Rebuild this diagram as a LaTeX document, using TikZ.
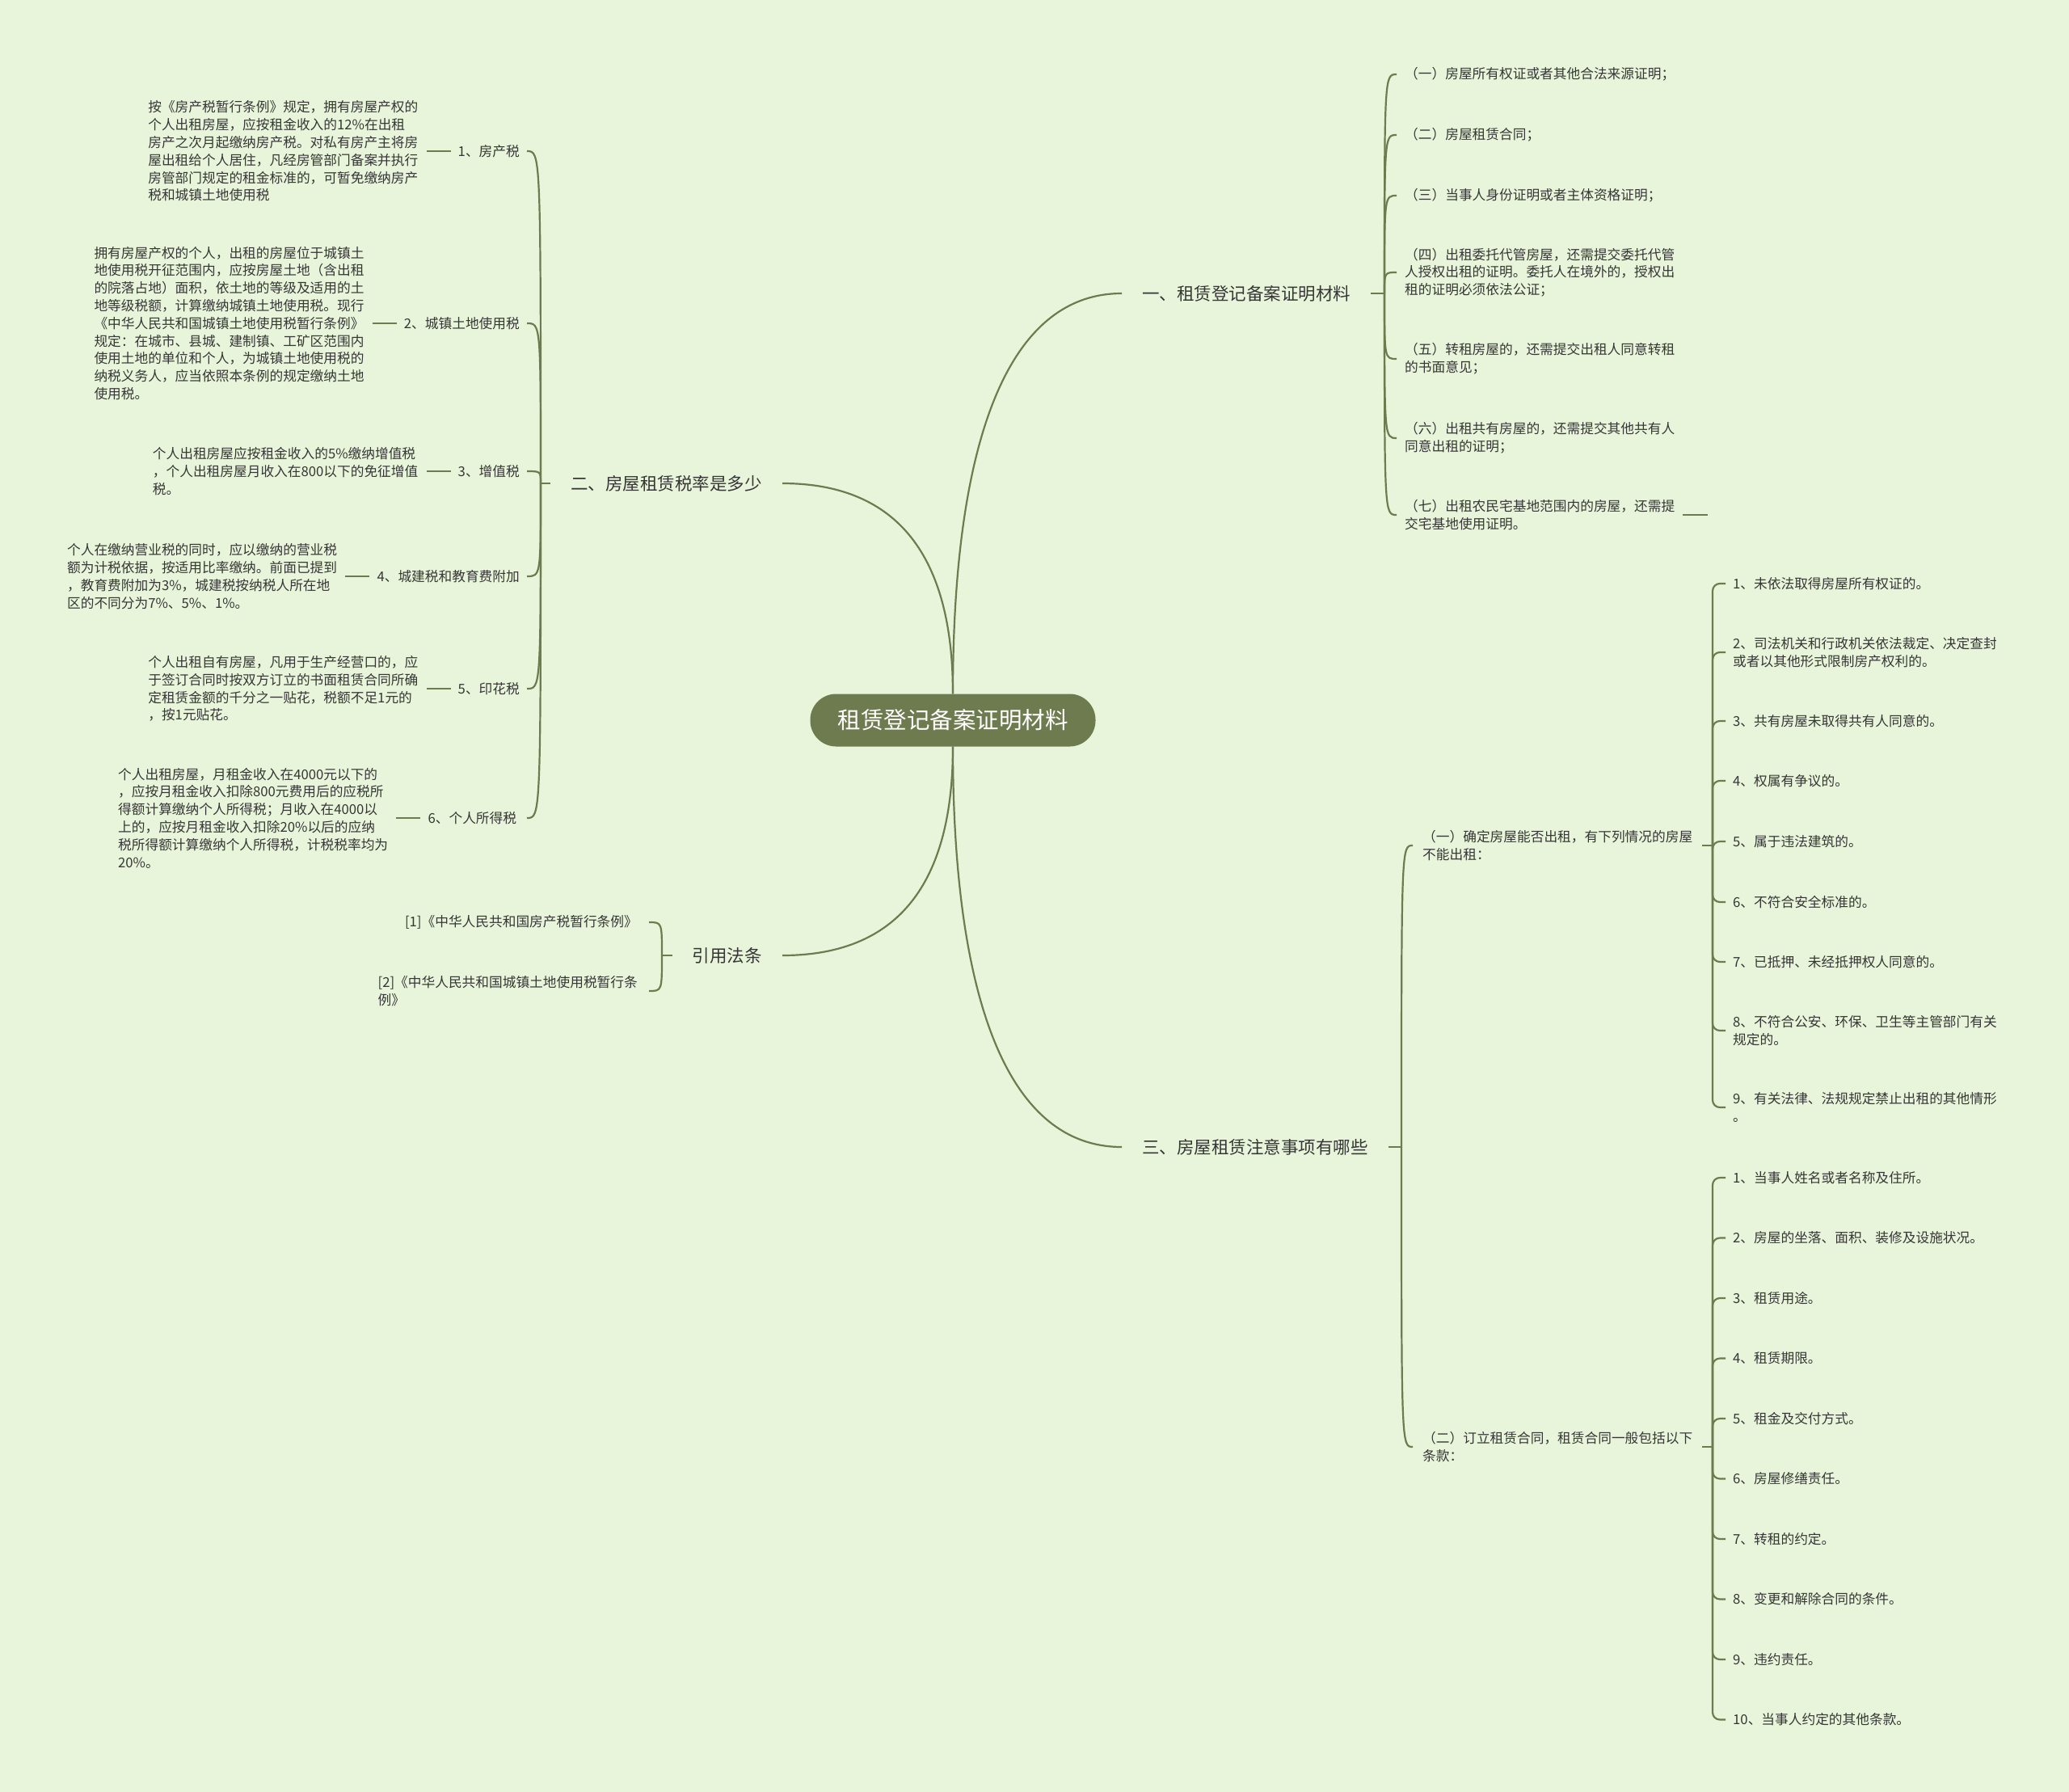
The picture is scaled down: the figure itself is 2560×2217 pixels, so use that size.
\documentclass[tikz,border=0pt]{standalone}
\usepackage{fontspec}
\setmainfont{Noto Sans CJK SC}
\usepackage{tikz}
\usetikzlibrary{positioning}

\definecolor{paper}{HTML}{E8F5DA}
\definecolor{moss}{HTML}{6D7B4F}
\definecolor{ink}{HTML}{363636}

\begin{document}
\begin{tikzpicture}[x=1pt, y=-1pt,
  hub/.style={rounded corners=32pt, fill=moss, text=white, minimum width=353pt,
              minimum height=65pt, font=\fontsize{28.5}{34}\selectfont},
  topic/.style={inner xsep=25pt, inner ysep=0pt, text=ink,
                font=\fontsize{21.5}{26}\selectfont},
  leaf/.style={inner xsep=10pt, inner ysep=0pt, text=ink, align=left,
               font=\fontsize{16.7}{21.8}\selectfont},
  link/.style={moss, line width=2.2pt},
  stub/.style={moss, line width=2.8pt},
  node distance=30pt]

\fill[paper] (0,0) rectangle (2560,2217);

% centre and main branches
\node[hub] (root) at (1179,891) {租赁登记备案证明材料};
\node[topic, anchor=west] (b1) at (1388,363) {一、租赁登记备案证明材料};
\node[topic, anchor=east] (b2) at (968,598) {二、房屋租赁税率是多少};
\node[topic, anchor=west] (b3) at (1388,1419) {三、房屋租赁注意事项有哪些};
\node[topic, anchor=east] (b4) at (968,1182) {引用法条};

\draw[link] (root.north) .. controls +(0,-298) and +(-147,0) .. (b1.west);
\draw[link] (root.north) .. controls +(0,-158) and +(152,0) .. (b2.east);
\draw[link] (root.south) .. controls +(0,298) and +(-147,0) .. (b3.west);
\draw[link] (root.south) .. controls +(0,158) and +(152,0) .. (b4.east);

% branch one
\coordinate (j1) at (1713,363);
\draw[stub] (b1.east) -- (j1);
\foreach \nm/\y/\t in {
  c1/92/（一）房屋所有权证或者其他合法来源证明；,
  c2/167/（二）房屋租赁合同；,
  c3/242/（三）当事人身份证明或者主体资格证明；,
  c4/337/（四）出租委托代管房屋，还需提交委托代管\\人授权出租的证明。委托人在境外的，授权出\\租的证明必须依法公证；,
  c5/444/（五）转租房屋的，还需提交出租人同意转租\\的书面意见；,
  c6/542/（六）出租共有房屋的，还需提交其他共有人\\同意出租的证明；,
  c7/637/（七）出租农民宅基地范围内的房屋，还需提\\交宅基地使用证明。
}{
  \coordinate (\nm-in) at (1728,\y);
  \draw[link] (j1) .. controls (1713,\y) .. (\nm-in);
  \node[leaf, anchor=west] (\nm) at (\nm-in) {\t};
}
\coordinate (c7end) at (2113,637);
\draw[stub] (c7.east) -- (c7end);

% branch two
\coordinate (j2) at (669,598);
\draw[stub] (b2.west) -- (j2);
\foreach \nm/\y/\t in {
  l1/187/1、房产税,
  l2/400/2、城镇土地使用税,
  l3/583/3、增值税,
  l4/713/4、城建税和教育费附加,
  l5/852/5、印花税,
  l6/1012/6、个人所得税
}{
  \coordinate (\nm-in) at (652,\y);
  \draw[link] (j2) .. controls (669,\y) .. (\nm-in);
  \node[leaf, anchor=east, inner xsep=9pt] (\nm) at (\nm-in) {\t};
}
\node[leaf, left=of l1] (d1) {按《房产税暂行条例》规定，拥有房屋产权的\\个人出租房屋，应按租金收入的12\%在出租\\房产之次月起缴纳房产税。对私有房产主将房\\屋出租给个人居住，凡经房管部门备案并执行\\房管部门规定的租金标准的，可暂免缴纳房产\\税和城镇土地使用税};
\node[leaf, left=of l2] (d2) {拥有房屋产权的个人，出租的房屋位于城镇土\\地使用税开征范围内，应按房屋土地（含出租\\的院落占地）面积，依土地的等级及适用的土\\地等级税额，计算缴纳城镇土地使用税。现行\\《中华人民共和国城镇土地使用税暂行条例》\\规定：在城市、县城、建制镇、工矿区范围内\\使用土地的单位和个人，为城镇土地使用税的\\纳税义务人，应当依照本条例的规定缴纳土地\\使用税。};
\node[leaf, left=of l3] (d3) {个人出租房屋应按租金收入的5\%缴纳增值税\\，个人出租房屋月收入在800以下的免征增值\\税。};
\node[leaf, left=of l4] (d4) {个人在缴纳营业税的同时，应以缴纳的营业税\\额为计税依据，按适用比率缴纳。前面已提到\\，教育费附加为3\%，城建税按纳税人所在地\\区的不同分为7\%、5\%、1\%。};
\node[leaf, left=of l5] (d5) {个人出租自有房屋，凡用于生产经营口的，应\\于签订合同时按双方订立的书面租赁合同所确\\定租赁金额的千分之一贴花，税额不足1元的\\，按1元贴花。};
\node[leaf, left=of l6] (d6) {个人出租房屋，月租金收入在4000元以下的\\，应按月租金收入扣除800元费用后的应税所\\得额计算缴纳个人所得税；月收入在4000以\\上的，应按月租金收入扣除20\%以后的应纳\\税所得额计算缴纳个人所得税，计税税率均为\\20\%。};
\draw[stub] (d1) -- (l1);
\draw[stub] (d2) -- (l2);
\draw[stub] (d3) -- (l3);
\draw[stub] (d4) -- (l4);
\draw[stub] (d5) -- (l5);
\draw[stub] (d6) -- (l6);

% cited regulations
\coordinate (j4) at (819,1182);
\draw[stub] (b4.west) -- (j4);
\node[leaf, anchor=east, inner xsep=14pt] (r1) at (803,1141) {[1]《中华人民共和国房产税暂行条例》};
\node[leaf, anchor=east, inner xsep=14pt] (r2) at (803,1226) {[2]《中华人民共和国城镇土地使用税暂行条\\例》};
\draw[link] (j4) .. controls (819,1141) .. (r1.east);
\draw[link] (j4) .. controls (819,1226) .. (r2.east);

% branch three
\coordinate (j3) at (1734,1419);
\draw[stub] (b3.east) -- (j3);
\node[leaf, anchor=west, inner xsep=12pt] (s1) at (1748,1046) {（一）确定房屋能否出租，有下列情况的房屋\\不能出租：};
\node[leaf, anchor=west, inner xsep=12pt] (s2) at (1748,1790) {（二）订立租赁合同，租赁合同一般包括以下\\条款：};
\draw[link] (j3) .. controls (1734,1046) .. (s1.west);
\draw[link] (j3) .. controls (1734,1790) .. (s2.west);

\coordinate (j5) at (2119,1046);
\coordinate (j6) at (2119,1790);
\draw[stub] (s1.east) -- (j5);
\draw[stub] (s2.east) -- (j6);

\foreach \nm/\y/\t in {
  e1/722/1、未依法取得房屋所有权证的。,
  e2/807/2、司法机关和行政机关依法裁定、决定查封\\或者以其他形式限制房产权利的。,
  e3/892/3、共有房屋未取得共有人同意的。,
  e4/966/4、权属有争议的。,
  e5/1041/5、属于违法建筑的。,
  e6/1116/6、不符合安全标准的。,
  e7/1190/7、已抵押、未经抵押权人同意的。,
  e8/1275/8、不符合公安、环保、卫生等主管部门有关\\规定的。,
  e9/1370/9、有关法律、法规规定禁止出租的其他情形\\。
}{
  \coordinate (\nm-in) at (2135,\y);
  \draw[link, rounded corners=9pt] (j5) |- (\nm-in);
  \node[leaf, anchor=west, inner xsep=9pt] (\nm) at (\nm-in) {\t};
}

\foreach \i/\t in {1/当事人姓名或者名称及住所。, 2/房屋的坐落、面积、装修及设施状况。,
  3/租赁用途。, 4/租赁期限。, 5/租金及交付方式。, 6/房屋修缮责任。, 7/转租的约定。,
  8/变更和解除合同的条件。, 9/违约责任。, 10/当事人约定的其他条款。}{
  \coordinate (f\i-in) at (2135,{1457+74.5*(\i-1)});
  \draw[link, rounded corners=9pt] (j6) |- (f\i-in);
  \node[leaf, anchor=west, inner xsep=9pt] (f\i) at (f\i-in) {\i、\t};
}
\end{tikzpicture}
\end{document}
